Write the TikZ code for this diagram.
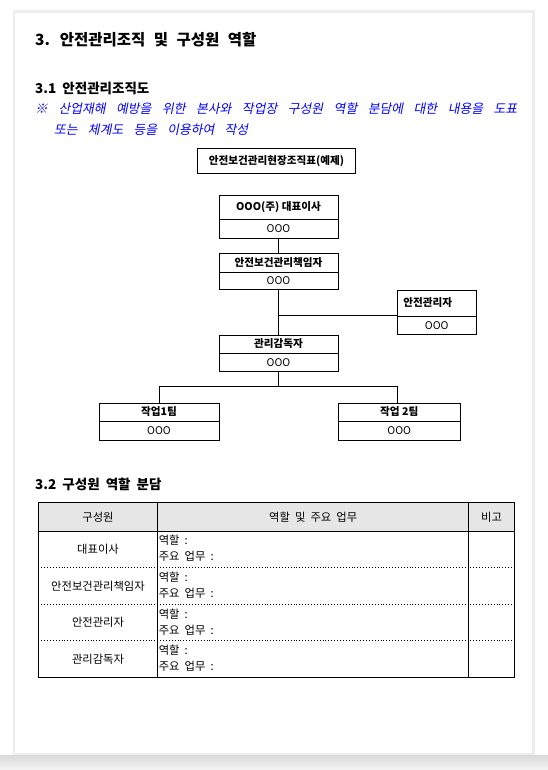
\documentclass[tikz,border=0pt]{standalone}
\usepackage{fontspec}
\setmainfont{Noto Sans CJK KR}
\newfontfamily\slantfont{Noto Sans CJK KR}[FakeSlant=0.2]
\usetikzlibrary{calc}
\definecolor{notecol}{RGB}{0,0,255}
\definecolor{hdrgray}{RGB}{230,230,230}
\newcommand\wsTitle{\spaceskip=0.55em\relax}
\newcommand\wsCell{\spaceskip=0.45em\relax}
\newcommand\wsFill{\spaceskip=0.3em plus 1fil\relax}
\newcommand\wsNote{\spaceskip=0.8em\relax}
\tikzset{
  boxtop/.style={draw, line width=0.9pt, inner sep=0pt, anchor=north west,
    font=\fontsize{10.6}{12}\selectfont\bfseries},
  boxbot/.style={draw, line width=0.9pt, inner sep=0pt, anchor=north west,
    font=\fontsize{10.6}{12}\selectfont},
  conn/.style={line width=0.9pt},
  celltxt/.style={inner sep=0pt, font={\fontsize{11.3}{13}\selectfont\wsCell}},
  celltxtl/.style={celltxt, anchor=west},
  heading/.style={anchor=west, inner sep=0pt, font={\fontsize{13.5}{16}\selectfont\bfseries\wsCell}},
}
\begin{document}
\begin{tikzpicture}[x=1pt,y=-1pt]
\useasboundingbox (0,0) rectangle (548,770);
% page
\fill[white] (0,0) rectangle (548,770);
\fill[black!7] (12.5,10.5) rectangle (534.5,756);
\fill[white] (15,13) rectangle (532,753);

% headings
\node[anchor=west, inner sep=0pt, font={\fontsize{15.5}{18}\selectfont\bfseries\wsTitle}] (title) at (35,40) {3. 안전관리조직 및 구성원 역할};
\node[heading] (h31) at (35,88) {3.1 안전관리조직도};
\node[anchor=west, inner sep=0pt, text=notecol, font={\slantfont\fontsize{12.8}{15}\selectfont\wsFill}] (note1) at (35,109)
  {\makebox[482pt][s]{※ 산업재해 예방을 위한 본사와 작업장 구성원 역할 분담에 대한 내용을 도표}};
\node[anchor=west, inner sep=0pt, text=notecol, font={\slantfont\fontsize{12.8}{15}\selectfont\wsNote}] (note2) at (54,130)
  {또는 체계도 등을 이용하여 작성};

% org chart
\node[boxtop, minimum width=158pt, minimum height=25pt] (chart) at (197,148) {안전보건관리현장조직표(예제)};

\node[boxtop, minimum width=119pt, minimum height=24.5pt] (ceoT) at (218.5,194.5) {OOO(주) 대표이사};
\node[boxbot, minimum width=119pt, minimum height=18.5pt] (ceoB) at (218.5,219) {OOO};

\node[boxtop, minimum width=119pt, minimum height=19.5pt] (csoT) at (218.5,252.5) {안전보건관리책임자};
\node[boxbot, minimum width=119pt, minimum height=16.5pt] (csoB) at (218.5,272) {OOO};

\node[boxtop, minimum width=78.5pt, minimum height=26pt] (smT) at (397,289.5) {안전관리자\hspace*{18pt}};
\node[boxbot, minimum width=78.5pt, minimum height=18.5pt] (smB) at (397,315.5) {OOO};

\node[boxtop, minimum width=119pt, minimum height=18pt] (supT) at (218.5,334.5) {관리감독자};
\node[boxbot, minimum width=119pt, minimum height=18.5pt] (supB) at (218.5,352.5) {OOO};

\node[boxtop, minimum width=120pt, minimum height=18pt] (t1T) at (98.5,402.5) {작업1팀};
\node[boxbot, minimum width=120pt, minimum height=19pt] (t1B) at (98.5,420.5) {OOO};

\node[boxtop, minimum width=122.5pt, minimum height=18pt] (t2T) at (337.5,402.5) {작업 2팀};
\node[boxbot, minimum width=122.5pt, minimum height=19pt] (t2B) at (337.5,420.5) {OOO};

\draw[conn] (ceoB.south) -- (csoT.north);
\draw[conn] (csoB.south) -- (supT.north);
\coordinate (j1) at (csoB.south |- smB.north west);
\draw[conn] (j1) -- (smB.north west);
\coordinate (j2) at ($(supB.south)+(0,15)$);
\draw[conn] (supB.south) -- (j2);
\draw[conn] (t1T.north) |- (j2) -| ($(t2T.north)+(-1.5,0)$);

% section 3.2
\node[heading] (h32) at (35,484) {3.2 구성원 역할 분담};

% table
\fill[hdrgray] (38.3,502.7) rectangle (514.3,531);
\foreach \yy in {567.3,604.3,640.3}
  \draw[dotted, line width=0.9pt] (38.3,\yy) -- (514.3,\yy);
\draw[line width=0.9pt] (38.3,531) -- (514.3,531);
\draw[line width=0.9pt] (157.7,502.7) -- (157.7,677.3);
\draw[line width=0.9pt] (468.7,502.7) -- (468.7,677.3);
\draw[line width=1.2pt] (38.3,502.7) rectangle (514.3,677.3);

\node[celltxt] (hc1) at (98,517) {구성원};
\node[celltxt] (hc2) at (313.2,517) {역할 및 주요 업무};
\node[celltxt] (hc3) at (491.5,517) {비고};

\node[celltxt] (r1c1) at (98,549.2) {대표이사};
\node[celltxt] (r2c1) at (98,585.8) {안전보건관리책임자};
\node[celltxt] (r3c1) at (98,622.3) {안전관리자};
\node[celltxt] (r4c1) at (98,658.8) {관리감독자};

\node[celltxtl] (r1a) at (158.6,540.5) {역할 :};
\node[celltxtl] (r1b) at (158.6,556.5) {주요 업무 :};
\node[celltxtl] (r2a) at (158.6,577.3) {역할 :};
\node[celltxtl] (r2b) at (158.6,593.3) {주요 업무 :};
\node[celltxtl] (r3a) at (158.6,614) {역할 :};
\node[celltxtl] (r3b) at (158.6,630) {주요 업무 :};
\node[celltxtl] (r4a) at (158.6,650.5) {역할 :};
\node[celltxtl] (r4b) at (158.6,666.5) {주요 업무 :};

% page number, mostly hidden
\node[font=\fontsize{10}{12}\selectfont\bfseries, inner sep=0pt] (pg) at (276,760) {11};
\shade[top color=black!15, bottom color=black!4] (0,755) rectangle (548,770);
\end{tikzpicture}
\end{document}
